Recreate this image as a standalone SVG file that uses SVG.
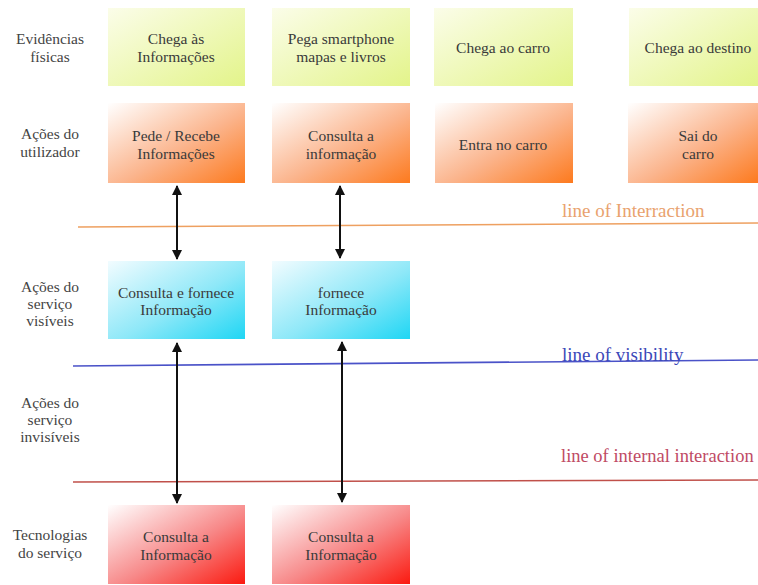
<svg xmlns="http://www.w3.org/2000/svg" width="758" height="585" viewBox="0 0 758 585">
  <style>
    text { font-family: 'Liberation Serif', 'Times New Roman', serif; font-size: 15.5px; fill: #3a3a3a; text-anchor: middle; }
    .lane text { fill: #444; }
    .tag { text-anchor: start; font-size: 19px; }
    .conn line { stroke: #111; stroke-width: 2; }
  </style>
  <defs>
    <linearGradient id="gYellow" x1="0" y1="0" x2="1" y2="1">
      <stop offset="0" stop-color="#fbfde9"/>
      <stop offset="1" stop-color="#e3f48a"/>
    </linearGradient>
    <linearGradient id="gOrange" x1="0" y1="0" x2="1" y2="1">
      <stop offset="0" stop-color="#ffffff"/>
      <stop offset="0.55" stop-color="#fbb48c"/>
      <stop offset="1" stop-color="#fd7a1e"/>
    </linearGradient>
    <linearGradient id="gCyan" x1="0" y1="0" x2="1" y2="1">
      <stop offset="0" stop-color="#f2fcff"/>
      <stop offset="0.55" stop-color="#8ee8f8"/>
      <stop offset="1" stop-color="#1fd6f4"/>
    </linearGradient>
    <linearGradient id="gRed" x1="0" y1="0" x2="1" y2="1">
      <stop offset="0" stop-color="#ffffff"/>
      <stop offset="0.55" stop-color="#f78888"/>
      <stop offset="1" stop-color="#fb1a10"/>
    </linearGradient>
    <marker id="head" viewBox="0 0 10 12" refX="9" refY="6" markerWidth="10" markerHeight="12" markerUnits="userSpaceOnUse" orient="auto-start-reverse">
      <path d="M0,1 L10,6 L0,11 Z" fill="#111"/>
    </marker>
  </defs>

  <rect width="758" height="585" fill="#ffffff"/>

  <!-- swimlane titles -->
  <g class="lane">
    <text x="50" y="44">Evidências</text>
    <text x="50" y="62">físicas</text>
    <text x="50" y="139">Ações do</text>
    <text x="50" y="157">utilizador</text>
    <text x="50" y="292">Ações do</text>
    <text x="50" y="309">serviço</text>
    <text x="50" y="326">visíveis</text>
    <text x="50" y="408">Ações do</text>
    <text x="50" y="425">serviço</text>
    <text x="50" y="442">invisíveis</text>
    <text x="50" y="540">Tecnologias</text>
    <text x="50" y="558">do serviço</text>
  </g>

  <!-- separating lines -->
  <g id="line-interaction">
    <line x1="78" y1="227" x2="758" y2="223" stroke="#eea060" stroke-width="1.6"/>
    <text class="tag" x="562" y="217" style="fill:#e9a26e">line of Interraction</text>
  </g>
  <g id="line-visibility">
    <line x1="73" y1="366" x2="758" y2="360" stroke="#4a52c8" stroke-width="1.6"/>
    <text class="tag" x="562" y="361" style="fill:#3c48b8">line of visibility</text>
  </g>
  <g id="line-internal">
    <line x1="73" y1="482" x2="758" y2="480" stroke="#c0504a" stroke-width="1.6"/>
    <text class="tag" x="561" y="462" style="fill:#c04a64;font-size:18.5px">line of internal interaction</text>
  </g>

  <!-- physical evidence -->
  <g id="ev1"><rect x="108" y="8" width="137" height="78" fill="url(#gYellow)"/>
    <text x="176" y="44">Chega às</text><text x="176" y="62">Informações</text></g>
  <g id="ev2"><rect x="272" y="8" width="138" height="78" fill="url(#gYellow)"/>
    <text x="341" y="44">Pega smartphone</text><text x="341" y="62">mapas e livros</text></g>
  <g id="ev3"><rect x="434" y="8" width="139" height="78" fill="url(#gYellow)"/>
    <text x="503" y="53">Chega ao carro</text></g>
  <g id="ev4"><rect x="629" y="8" width="129" height="78" fill="url(#gYellow)"/>
    <text x="698" y="53">Chega ao destino</text></g>

  <!-- user actions -->
  <g id="ua1"><rect x="108" y="103" width="137" height="80" fill="url(#gOrange)"/>
    <text x="176" y="141">Pede / Recebe</text><text x="176" y="159">Informações</text></g>
  <g id="ua2"><rect x="272" y="103" width="138" height="80" fill="url(#gOrange)"/>
    <text x="341" y="141">Consulta a</text><text x="341" y="159">informação</text></g>
  <g id="ua3"><rect x="435" y="103" width="138" height="80" fill="url(#gOrange)"/>
    <text x="503" y="150">Entra no carro</text></g>
  <g id="ua4"><rect x="628" y="103" width="130" height="80" fill="url(#gOrange)"/>
    <text x="698" y="141">Sai do</text><text x="698" y="159">carro</text></g>

  <!-- visible service actions -->
  <g id="sv1"><rect x="108" y="261" width="137" height="78" fill="url(#gCyan)"/>
    <text x="176" y="298">Consulta e fornece</text><text x="176" y="315">Informação</text></g>
  <g id="sv2"><rect x="272" y="261" width="138" height="78" fill="url(#gCyan)"/>
    <text x="341" y="298">fornece</text><text x="341" y="315">Informação</text></g>

  <!-- service technologies -->
  <g id="st1"><rect x="108" y="505" width="137" height="79" fill="url(#gRed)"/>
    <text x="176" y="542">Consulta a</text><text x="176" y="560">Informação</text></g>
  <g id="st2"><rect x="272" y="505" width="138" height="79" fill="url(#gRed)"/>
    <text x="341" y="542">Consulta a</text><text x="341" y="560">Informação</text></g>

  <!-- connectors -->
  <g class="conn">
    <line x1="177" y1="186" x2="177" y2="259" marker-start="url(#head)" marker-end="url(#head)"/>
    <line x1="340" y1="186" x2="340" y2="258" marker-start="url(#head)" marker-end="url(#head)"/>
    <line x1="177" y1="343" x2="177" y2="503" marker-start="url(#head)" marker-end="url(#head)"/>
    <line x1="342" y1="342" x2="342" y2="502" marker-start="url(#head)" marker-end="url(#head)"/>
  </g>
</svg>
